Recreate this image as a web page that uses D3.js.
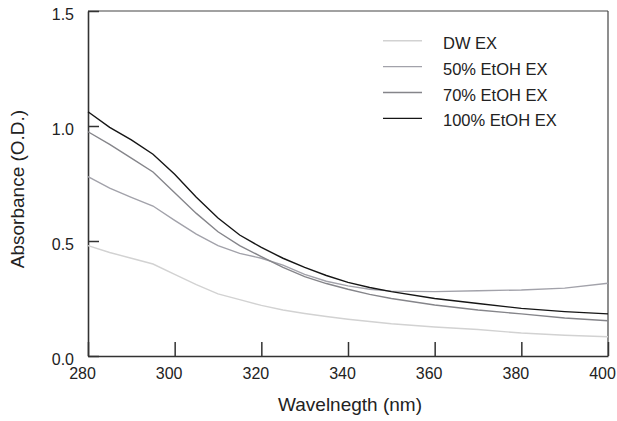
<!DOCTYPE html>
<html>
<head>
<meta charset="utf-8">
<script src="https://cdn.jsdelivr.net/npm/d3@7"></script>
<style>
  body { margin: 0; background: #fff; }
  svg { display: block; font-family: "Liberation Sans", Arial, sans-serif; }
  .axis path, .axis line { stroke: #333; }
  .axis text { fill: #222; font-size: 16px; }
</style>
</head>
<body>
<svg id="chart" width="617" height="421"></svg>
<script>
// wavelengths (nm)
const wavelengths = [280, 285, 290, 295, 300, 305, 310, 315, 320, 325, 330, 335, 340, 345, 350, 360, 370, 380, 390, 400];

// absorbance values
const dwEx    = [0.48, 0.45, 0.425, 0.40, 0.355, 0.31, 0.27, 0.245, 0.22, 0.20, 0.185, 0.172, 0.16, 0.15, 0.14, 0.126, 0.115, 0.10, 0.09, 0.084];
const etoh50  = [0.78, 0.73, 0.69, 0.652, 0.59, 0.53, 0.48, 0.446, 0.425, 0.395, 0.355, 0.325, 0.305, 0.29, 0.282, 0.28, 0.284, 0.287, 0.295, 0.316];
const etoh70  = [0.975, 0.92, 0.86, 0.80, 0.71, 0.62, 0.54, 0.48, 0.432, 0.385, 0.345, 0.315, 0.29, 0.268, 0.25, 0.222, 0.20, 0.183, 0.165, 0.153];
const etoh100 = [1.062, 0.994, 0.94, 0.877, 0.79, 0.69, 0.60, 0.526, 0.472, 0.425, 0.385, 0.35, 0.32, 0.298, 0.28, 0.25, 0.228, 0.207, 0.193, 0.183];

const seriesNames = ["DW EX", "50% EtOH EX", "70% EtOH EX", "100% EtOH EX"];
const seriesValues = [dwEx, etoh50, etoh70, etoh100];
const seriesColors = ["#d2d2d2", "#a2a2aa", "#85858a", "#151515"];

const xTicks = [280, 300, 320, 340, 360, 380, 400];
const yTicks = [0.0, 0.5, 1.0, 1.5];

const margin = {top: 11, right: 9, bottom: 65, left: 88};
const svg = d3.select("#chart");
const width = 617 - margin.left - margin.right;
const height = 421 - margin.top - margin.bottom;

const x = d3.scaleLinear().domain([280, 400]).range([0, width]);
const y = d3.scaleLinear().domain([0, 1.5]).range([height, 0]);

const g = svg.append("g").attr("transform", `translate(${margin.left},${margin.top})`);

// frame (top + right)
g.append("line").attr("x1", 0).attr("x2", width).attr("y1", 0).attr("y2", 0)
  .attr("stroke", "#444").attr("stroke-width", 1.2);
g.append("line").attr("x1", width).attr("x2", width).attr("y1", 0).attr("y2", height)
  .attr("stroke", "#444").attr("stroke-width", 1.2);

// x axis, ticks pointing inward
const xAxis = g.append("g").attr("class", "axis")
  .attr("transform", `translate(0,${height})`)
  .call(d3.axisBottom(x).tickValues(xTicks).tickSizeInner(-14).tickSizeOuter(0).tickPadding(12).tickFormat(d3.format("d")));
xAxis.select(".domain").attr("stroke-width", 1.6);
xAxis.selectAll(".tick line").attr("stroke-width", 1.5);
xAxis.selectAll(".tick text").attr("dx", -6);

// y axis
const yAxis = g.append("g").attr("class", "axis")
  .call(d3.axisLeft(y).tickValues(yTicks).tickSizeInner(-11).tickSizeOuter(0).tickPadding(14).tickFormat(d3.format(".1f")));
yAxis.select(".domain").attr("stroke-width", 1.6);
yAxis.selectAll(".tick line").attr("stroke-width", 1.5);
yAxis.selectAll(".tick text").attr("y", 3);

// lines
const line = d3.line()
  .x((d, i) => x(wavelengths[i]))
  .y(d => y(d));

seriesValues.forEach((vals, k) => {
  g.append("path")
    .datum(vals)
    .attr("fill", "none")
    .attr("stroke", seriesColors[k])
    .attr("stroke-width", 1.4)
    .attr("d", line);
});

// legend
const legend = g.append("g").attr("transform", "translate(295,29.7)");
seriesNames.forEach((name, k) => {
  const row = legend.append("g").attr("transform", `translate(0,${k * 25.9})`);
  row.append("line").attr("x1", 0).attr("x2", 39).attr("y1", 0).attr("y2", 0)
    .attr("stroke", seriesColors[k]).attr("stroke-width", 1.4);
  row.append("text").attr("x", 60).attr("y", 8)
    .attr("font-size", "16.5px").attr("fill", "#222").text(name);
});

// axis titles
svg.append("text")
  .attr("x", margin.left + width / 2 + 2)
  .attr("y", 411)
  .attr("text-anchor", "middle")
  .attr("font-size", "19px")
  .attr("fill", "#222")
  .text("Wavelnegth (nm)");

svg.append("text")
  .attr("transform", "translate(24,189) rotate(-90)")
  .attr("text-anchor", "middle")
  .attr("font-size", "19px")
  .attr("fill", "#222")
  .text("Absorbance (O.D.)");
</script>
</body>
</html>
